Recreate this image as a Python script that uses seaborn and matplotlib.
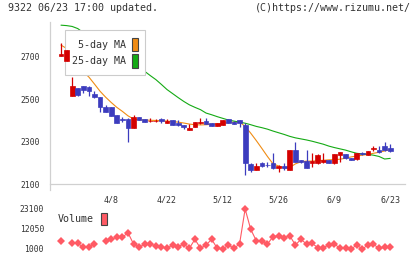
import matplotlib
matplotlib.use('Agg')
import matplotlib.pyplot as plt
from matplotlib.patches import Patch
import seaborn as sns
import numpy as np
import pandas as pd

header_left = '9322 06/23 17:00 updated.'
header_right = '(C)https://www.rizumu.net/'

# daily prices, oldest first
opens = [2705, 2682, 2515, 2553, 2562, 2560, 2525, 2510, 2465, 2463,
         2425, 2406, 2408, 2366, 2416, 2407, 2396, 2396, 2406, 2390,
         2402, 2388, 2379, 2356, 2370, 2389, 2398, 2389, 2375, 2378,
         2405, 2394, 2402, 2380, 2196, 2166, 2200, 2191, 2200, 2175,
         2187, 2166, 2260, 2212, 2208, 2198, 2197, 2205, 2213, 2197,
         2237, 2241, 2221, 2216, 2245, 2237, 2264, 2260, 2279, 2271]
highs = [2765, 2735, 2606, 2555, 2565, 2562, 2540, 2512, 2473, 2465,
         2427, 2417, 2410, 2425, 2417, 2408, 2410, 2407, 2410, 2405,
         2403, 2404, 2380, 2385, 2394, 2412, 2410, 2390, 2389, 2403,
         2406, 2398, 2403, 2390, 2198, 2197, 2205, 2205, 2245, 2190,
         2198, 2261, 2300, 2214, 2260, 2245, 2240, 2245, 2214, 2242,
         2253, 2242, 2222, 2246, 2252, 2258, 2280, 2279, 2300, 2290]
lows = [2705, 2680, 2515, 2515, 2531, 2515, 2505, 2441, 2441, 2421,
        2388, 2392, 2297, 2366, 2400, 2394, 2394, 2395, 2389, 2389,
        2378, 2376, 2361, 2355, 2369, 2384, 2382, 2375, 2374, 2377,
        2386, 2383, 2368, 2142, 2155, 2165, 2182, 2182, 2173, 2158,
        2166, 2165, 2204, 2200, 2176, 2180, 2196, 2198, 2199, 2196,
        2205, 2220, 2212, 2215, 2239, 2236, 2258, 2248, 2258, 2250]
closes = [2715, 2735, 2562, 2521, 2542, 2540, 2510, 2462, 2442, 2423,
          2390, 2403, 2365, 2415, 2403, 2395, 2398, 2398, 2396, 2397,
          2380, 2378, 2367, 2366, 2393, 2392, 2384, 2376, 2388, 2402,
          2388, 2385, 2387, 2197, 2167, 2186, 2183, 2188, 2175, 2186,
          2174, 2260, 2206, 2206, 2177, 2208, 2237, 2212, 2200, 2241,
          2252, 2221, 2213, 2245, 2240, 2257, 2271, 2250, 2260, 2256]

ma5 = [2756, 2740, 2700, 2660, 2630, 2605, 2572, 2538, 2510, 2485,
       2462, 2443, 2422, 2407, 2403, 2402, 2401, 2400, 2399, 2397,
       2395, 2392, 2388, 2383, 2380, 2379, 2380, 2382, 2384, 2387,
       2390, 2392, 2393, 2372, 2340, 2305, 2268, 2230, 2195, 2185,
       2175, 2178, 2195, 2205, 2208, 2208, 2210, 2212, 2214, 2215,
       2217, 2222, 2228, 2232, 2236, 2240, 2245, 2250, 2256, 2263]
ma25 = [2850, 2848, 2844, 2834, 2815, 2795, 2775, 2755, 2735, 2715,
        2695, 2678, 2662, 2652, 2645, 2632, 2612, 2593, 2570, 2546,
        2527, 2508, 2490, 2474, 2462, 2451, 2435, 2427, 2418, 2410,
        2402, 2397, 2392, 2387, 2380, 2372, 2366, 2359, 2350, 2342,
        2334, 2325, 2318, 2313, 2308, 2302, 2295, 2288, 2279, 2272,
        2266, 2260, 2252, 2245, 2242, 2240, 2236, 2230, 2218, 2221]

volume = [5420, np.nan, 4150, 4150, 1940, 2290, 3760, np.nan, 5420, 6340,
          7460, 7460, 10010, 3760, 1940, 3760, 3760, 2700, 2290, 1390,
          3210, 2290, 3760, 1390, 6340, 1390, 3210, 6340, 1390, 1000,
          3210, 1390, 3760, 23100, 11880, 5590, 5590, 3760, 7800, 8350,
          7250, 8350, 3210, 6340, 3760, 4150, 1760, 1760, 3210, 3760,
          1390, 1390, 1000, 3210, 1000, 3210, 3580, 1390, 1940, 1940]

date_labels = ['4/8', '4/22', '5/12', '5/26', '6/9', '6/23']
date_label_days = [9, 19, 29, 39, 49, 59]
price_ticks = [2100, 2300, 2500, 2700]
volume_ticks = [1000, 12050, 23100]

UP = '#d40000'
DOWN = '#3c3cbe'
ORANGE = '#f08c14'
GREEN = '#14aa14'
VOL = '#ff5a64'
AXIS = '#d0d0d0'
TEXT = '#333333'

sns.set_style('white')
plt.rcParams['font.family'] = ['DejaVu Sans Mono', 'DejaVu Sans']

W, H = 420, 259
fig = plt.figure(figsize=(W / 100, H / 100), dpi=100)
ax = fig.add_axes([50 / W, 1 - 184 / H, 355 / W, 162 / H])
ax2 = fig.add_axes([50 / W, 1 - 255 / H, 355 / W, 52 / H])

days = np.arange(len(closes))
xmin, xmax = -1.97, 61.65

# moving averages (below the legend box)
sns.lineplot(x=days, y=ma5, color=ORANGE, lw=0.8, ax=ax, zorder=2)
sns.lineplot(x=days, y=ma25, color=GREEN, lw=0.8, ax=ax, zorder=2)

# candles (above the legend box)
colors = [UP if c >= o else DOWN for o, c in zip(opens, closes)]
ax.vlines(days, lows, highs, colors=colors, lw=0.9, zorder=4)
bottoms = np.minimum(opens, closes)
heights = np.maximum(np.abs(np.subtract(closes, opens)), 2)
ax.bar(days, heights, bottom=bottoms, width=0.85, color=colors,
       edgecolor=colors, lw=0.5, zorder=5)

ax.set_xlim(xmin, xmax)
ax.set_ylim(2100, 2865)
ax.set_xlabel('')
ax.set_ylabel('')
for s in ['top', 'right']:
    ax.spines[s].set_visible(False)
for s in ['left', 'bottom']:
    ax.spines[s].set_color(AXIS)
    ax.spines[s].set_linewidth(0.9)
ax.spines['left'].set_bounds(2072, 2865)
ax.set_yticks(price_ticks)
ax.set_xticks(date_label_days)
ax.set_xticklabels(date_labels)
ax.set_xticks(np.linspace(xmin, xmax, 12), minor=True)
ax.tick_params(axis='x', which='major', length=0, pad=8, labelsize=6, labelcolor=TEXT)
ax.tick_params(axis='x', which='minor', length=4.3, width=0.9, color=AXIS)
ax.tick_params(axis='y', length=3.6, width=0.9, color=AXIS, labelsize=5.8,
               labelcolor=TEXT, pad=4)

leg = ax.legend([Patch(facecolor=ORANGE, edgecolor='#444444', lw=0.8),
                 Patch(facecolor=GREEN, edgecolor='#444444', lw=0.8)],
                ['5-day MA', '25-day MA'],
                loc='upper left', bbox_to_anchor=(65 / W, 1 - 30 / H),
                bbox_transform=fig.transFigure, markerfirst=False,
                fontsize=7.2, handlelength=0.6, handleheight=1.7,
                handletextpad=0.5, labelspacing=0.3, borderpad=0.75,
                borderaxespad=0, frameon=True, fancybox=False, framealpha=1,
                edgecolor='#cccccc', labelcolor=TEXT)
leg.get_frame().set_linewidth(0.8)
leg.set_zorder(3)

# volume panel, line broken where a day is missing
vol = pd.DataFrame({'day': days, 'volume': volume})
vol['seg'] = vol['volume'].isna().cumsum()
vol = vol.dropna()
sns.lineplot(data=vol, x='day', y='volume', units='seg', estimator=None,
             color=VOL, lw=0.8, marker='D', markersize=4, markeredgewidth=0,
             ax=ax2)
ax2.set_xlim(xmin, xmax)
ax2.set_ylim(-2315, 26415)
ax2.set_xlabel('')
ax2.set_ylabel('')
ax2.set_xticks([])
ax2.set_yticks(volume_ticks)
sns.despine(ax=ax2, left=True, bottom=True)
ax2.tick_params(axis='y', length=0, labelsize=5.8, labelcolor=TEXT, pad=4.3)
ax2.legend([Patch(facecolor=VOL, edgecolor='#444444', lw=0.8)], ['Volume'],
           loc='upper left', bbox_to_anchor=(58 / W, 1 - 213 / H),
           bbox_transform=fig.transFigure, markerfirst=False, fontsize=7.2,
           handlelength=0.6, handleheight=1.5, handletextpad=0.7,
           borderpad=0, borderaxespad=0, frameon=False, labelcolor=TEXT)

fig.text(8 / W, 1 - 8 / H, header_left, ha='left', va='center', fontsize=7.2, color=TEXT)
fig.text(411 / W, 1 - 8 / H, header_right, ha='right', va='center', fontsize=7.2, color=TEXT)

fig.savefig('out.png', dpi=100, facecolor='white')
